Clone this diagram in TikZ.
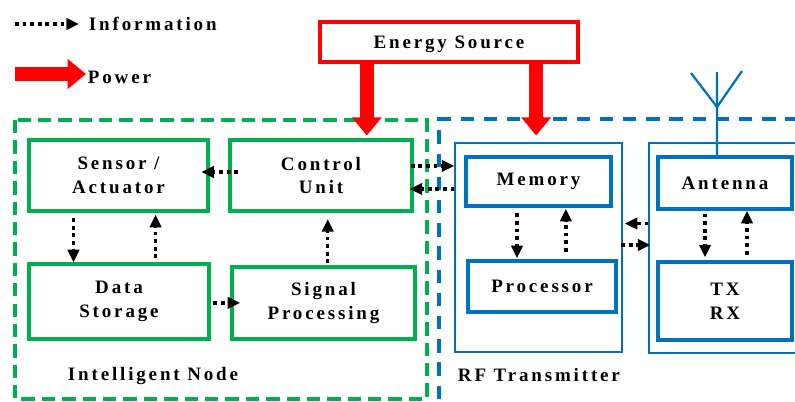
\documentclass[tikz,border=0pt]{standalone}
\usepackage{fontspec}
\setmainfont{Liberation Serif}
\newfontfamily\spacedserif{Liberation Serif}[LetterSpace=15]
\newcommand{\lblfont}{\spacedserif\bfseries\fontsize{13.5}{17}\selectfont}
\usetikzlibrary{arrows.meta,positioning,calc}
\definecolor{nodegreen}{RGB}{0,176,80}
\definecolor{rfblue}{RGB}{0,112,192}
\tikzset{
    unit/.style={
        rectangle,
        line width=2.3pt,
        draw=nodegreen,
        align=center,
        font=\lblfont,
    },
    block/.style={
        rectangle,
        line width=2.5pt,
        draw=rfblue,
        align=center,
        font=\lblfont,
    },
    panel/.style={
        rectangle,
        line width=0.8pt,
        draw=rfblue,
    },
    source/.style={
        rectangle,
        line width=2.6pt,
        draw=red,
        text depth=0pt,
        font=\lblfont,
    },
    label/.style={
        anchor=west,
        font=\lblfont,
    },
    info/.style={
        ->,
        line width=2.3pt,
        dash pattern=on 2.7pt off 2.7pt,
    },
    power/.style={
        -{Triangle[length=13pt,width=20.5pt]},
        line width=10pt,
        draw=red,
    },
}

\begin{document}
\begin{tikzpicture}[x=0.025cm,y=-0.025cm,>={Triangle[length=9pt,width=8pt]}]
    \useasboundingbox (0,0) rectangle (795,401);
    \clip (0,0) rectangle (795,401);

    % legend
    \coordinate (info-start) at (15,24);
    \coordinate (info-end) at (79,24);
    \node [label] (info-text) at (84,24) {Information};
    \draw[info] (info-start) -- (info-end);
    \coordinate (power-start) at (15,74);
    \coordinate (power-end) at (86,74);
    \node [label] (power-text) at (83,77) {Power};
    \draw[power] (power-start) -- (power-end);

    % outer groups
    \draw[nodegreen, line width=2.5pt, dash pattern=on 9.5pt off 5pt] (15,120) rectangle (427,399);
    \draw[rfblue, line width=2.5pt, dash pattern=on 9.5pt off 7pt] (439,399) -- (439,119) -- (830,119);

    \node [source, minimum width=6.45cm, minimum height=1cm] (es) at (449,42) {Energy Source};

    % intelligent node
    \node [unit, minimum width=4.475cm, minimum height=1.775cm] (sa) at (118.5,175.5) {Sensor /\\Actuator};
    \node [unit, minimum width=4.55cm, minimum height=1.775cm] (cu) at (321,175.5) {Control\\Unit};
    \node [unit, minimum width=4.5cm, minimum height=1.875cm] (ds) at (119,301.5) {Data\\Storage};
    \node [unit, minimum width=4.575cm, minimum height=1.8cm] (sp) at (323.5,303) {Signal\\Processing};
    \node [label] (in-label) at (63,376) {Intelligent Node};

    % rf transmitter
    \node [panel, minimum width=4.175cm, minimum height=5.225cm] (lp) at (538.5,247.5) {};
    \node [panel, minimum width=4.525cm, minimum height=5.25cm] (rp) at (739.5,248) {};
    \node [block, minimum width=3.625cm, minimum height=1.225cm] (mem) at (538.5,181.5) {Memory};
    \node [block, minimum width=3.7cm, minimum height=1.275cm] (proc) at (542,286.5) {Processor};
    \node [block, minimum width=3.35cm, minimum height=1.3cm] (ant) at (725,183) {Antenna};
    \node [block, minimum width=3.35cm, minimum height=1.95cm] (trx) at (725,301) {TX\\RX};
    \node [label] (rf-label) at (453,375) {RF Transmitter};

    % antenna mast
    \coordinate (mast) at (717,107);
    \draw[rfblue, line width=1.6pt] ([xshift=-5.7pt]ant.north) -- (717,72);
    \draw[rfblue, line width=1.6pt] (691,73) -- (mast) -- (742,71);

    % power
    \coordinate (feed-cu) at ($(es.south west)!0.186!(es.south east)$);
    \coordinate (feed-rf) at ($(es.south west)!0.833!(es.south east)$);
    \draw[power] (feed-cu) -- ([yshift=2pt]feed-cu |- cu.north);
    \draw[power] (feed-rf) -- ([yshift=2pt]feed-rf |- cu.north);

    % information
    \draw[info, shorten <=-7pt, shorten >=-6pt] ([yshift=2.5pt]cu.west) -- ([yshift=2.5pt]sa.east);
    \draw[info, shorten <=4pt] ([xshift=-32pt]sa.south) -- ([xshift=-32pt]sa.south |- ds.north);
    \draw[info, shorten <=3pt, shorten >=1.5pt] ([xshift=26pt]ds.north) -- ([xshift=26pt]ds.north |- sa.south);
    \draw[info, shorten <=2pt, shorten >=-7pt] ([yshift=-1pt]ds.east) -- ([yshift=-1pt]ds.east -| sp.west);
    \draw[info, shorten <=1.5pt, shorten >=4.5pt] ([xshift=3pt]sp.north) -- ([xshift=3pt]sp.north |- cu.south);
    \draw[info, shorten <=-2pt] ([yshift=6.8pt]cu.east) -- ([yshift=6.8pt]cu.east -| lp.west);
    \draw[info, shorten >=-3pt] ([yshift=-9.6pt]cu.east -| lp.west) -- ([yshift=-9.6pt]cu.east);
    \draw[info, shorten <=4pt, shorten >=0.7pt] ([xshift=-15.3pt]mem.south) -- ([xshift=-15.3pt]mem.south |- proc.north);
    \draw[info, shorten <=5.5pt, shorten >=0.7pt] ([xshift=17pt]proc.north) -- ([xshift=17pt]proc.north |- mem.south);
    \draw[info, shorten >=1.5pt] ([yshift=17.4pt]rp.west) -- ([yshift=17.4pt]rp.west -| lp.east);
    \draw[info, shorten <=-1pt, shorten >=-1.5pt] ([yshift=1.8pt]lp.east) -- ([yshift=1.8pt]lp.east -| rp.west);
    \draw[info, shorten <=2pt, shorten >=2pt] ([xshift=-14.2pt]ant.south) -- ([xshift=-14.2pt]ant.south |- trx.north);
    \draw[info, shorten <=4pt, shorten >=0pt] ([xshift=15.6pt]trx.north) -- ([xshift=15.6pt]trx.north |- ant.south);
\end{tikzpicture}
\end{document}
